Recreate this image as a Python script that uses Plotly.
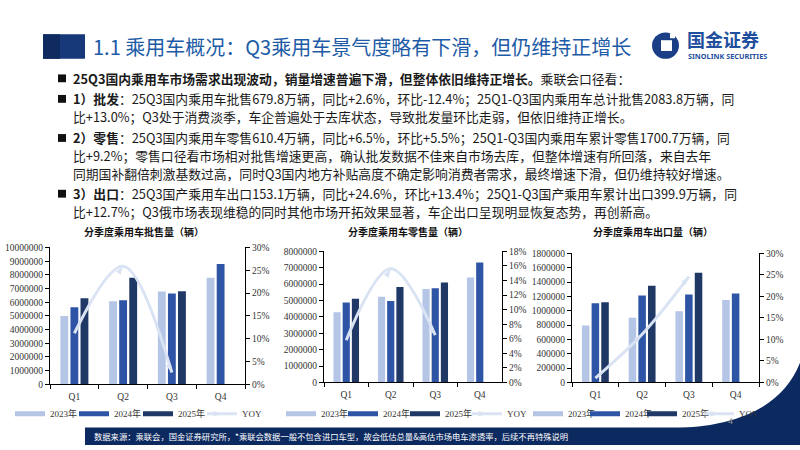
import plotly.graph_objects as go

# ---------------- data ----------------
quarters = ["Q1", "Q2", "Q3", "Q4"]
years = ["2023年", "2024年", "2025年"]

wholesale_2023 = [5000000, 6070000, 6790000, 7790000]
wholesale_2024 = [5640000, 6140000, 6640000, 8790000]
wholesale_2025 = [6290000, 7790000, 6798000, None]
wholesale_yoy = [11.2, 25.9, 2.6, None]

retail_2023 = [4280000, 5230000, 5710000, 6410000]
retail_2024 = [4880000, 4970000, 5750000, 7320000]
retail_2025 = [5110000, 5830000, 6104000, None]
retail_yoy = [5.8, 15.6, 6.5, None]

export_2023 = [793000, 902000, 994000, 1149000]
export_2024 = [1103000, 1212000, 1226000, 1240000]
export_2025 = [1117000, 1349000, 1531000, None]
export_yoy = [1.0, 11.2, 24.6, None]

chart_titles = ["分季度乘用车批售量（辆）", "分季度乘用车零售量（辆）", "分季度乘用车出口量（辆）"]
left_ranges = [(0, 10000000, 1000000), (0, 8000000, 1000000), (0, 1800000, 200000)]
right_ranges = [(0, 30, 5), (0, 18, 2), (0, 30, 5)]

page_title = "1.1 乘用车概况：Q3乘用车景气度略有下滑，但仍维持正增长"
body_lines = [
    "<b>25Q3国内乘用车市场需求出现波动，销量增速普遍下滑，但整体依旧维持正增长。</b>乘联会口径看：",
    "<b>1）批发</b>：25Q3国内乘用车批售679.8万辆，同比+2.6%，环比-12.4%；25Q1-Q3国内乘用车总计批售2083.8万辆，同",
    "比+13.0%；Q3处于消费淡季，车企普遍处于去库状态，导致批发量环比走弱，但依旧维持正增长。",
    "<b>2）零售</b>：25Q3国内乘用车零售610.4万辆，同比+6.5%，环比+5.5%；25Q1-Q3国内乘用车累计零售1700.7万辆，同",
    "比+9.2%；零售口径看市场相对批售增速更高，确认批发数据不佳来自市场去库，但整体增速有所回落，来自去年",
    "同期国补翻倍刺激基数过高，同时Q3国内地方补贴高度不确定影响消费者需求，最终增速下滑，但仍维持较好增速。",
    "<b>3）出口</b>：25Q3国产乘用车出口153.1万辆，同比+24.6%，环比+13.4%；25Q1-Q3国产乘用车累计出口399.9万辆，同",
    "比+12.7%；Q3俄市场表现维稳的同时其他市场开拓效果显著，车企出口呈现明显恢复态势，再创新高。",
]
footer_text = "数据来源：乘联会，国金证券研究所，*乘联会数据一般不包含进口车型，故会低估总量&高估市场电车渗透率，后续不再特殊说明"

# ---------------- style ----------------
W, H = 800, 450
def X(p): return p / W
def Y(p): return 1 - p / H

bar_colors = ["#b4c5e6", "#2e55a5", "#1f3866"]
yoy_color = "#d9e3f3"
serif = "Liberation Serif, Noto Sans CJK SC"
cjk = "Noto Sans CJK SC"

# plot-area boxes in pixels (left, right, top, bottom)
boxes = [(50, 245, 248, 388), (324, 502, 252, 386), (572, 759, 254, 386)]
title_cx = [144, 408, 653]
legend_x = [10, 281, 528]
legend_ew = [19, 17, 12]

fig = go.Figure()

series = [
    ([wholesale_2023, wholesale_2024, wholesale_2025], wholesale_yoy),
    ([retail_2023, retail_2024, retail_2025], retail_yoy),
    ([export_2023, export_2024, export_2025], export_yoy),
]

layout_axes = {}
for i, ((bars, yoy), box) in enumerate(zip(series, boxes)):
    xa = "x" if i == 0 else f"x{i+1}"
    yl = "y" if i == 0 else f"y{2*i+1}"
    yr = f"y{2*i+2}"
    lg = "legend" if i == 0 else f"legend{i+1}"
    for name, vals, col in zip(years, bars, bar_colors):
        fig.add_trace(go.Bar(x=quarters, y=vals, name=name, marker_color=col,
                             marker_line_width=0, xaxis=xa, yaxis=yl,
                             showlegend=False, hoverinfo="skip"))
    for name, col in zip(years, bar_colors):
        fig.add_trace(go.Scatter(x=[None], y=[None], mode="lines", name=name,
                                 line=dict(color=col, width=5), xaxis=xa, yaxis=yl,
                                 legend=lg, showlegend=True))
    fig.add_trace(go.Scatter(x=quarters, y=yoy, name="YOY", mode="lines+markers",
                             line=dict(color=yoy_color, width=3, shape="spline"),
                             marker=dict(symbol="arrow", size=9, angleref="previous",
                                         color=yoy_color),
                             xaxis=xa, yaxis=yr, legend=lg, showlegend=True,
                             connectgaps=False))
    l, r, t, b = box
    axis_common = dict(showline=True, linecolor="#000000", linewidth=1,
                       ticks="outside", ticklen=4, tickcolor="#000000",
                       showgrid=False, zeroline=False,
                       tickfont=dict(family=serif, size=9.5, color="#333333"))
    lo, hi, dt = left_ranges[i]
    rlo, rhi, rdt = right_ranges[i]
    key_x = "xaxis" if i == 0 else f"xaxis{i+1}"
    key_yl = "yaxis" if i == 0 else f"yaxis{2*i+1}"
    key_yr = f"yaxis{2*i+2}"
    layout_axes[key_x] = dict(axis_common, domain=[X(l), X(r)], anchor=yl,
                              type="category", tickson="boundaries",
                              range=[-0.5, 3.5], ticklabelstandoff=3)
    layout_axes[key_yl] = dict(axis_common, domain=[Y(b), Y(t)], anchor=xa,
                               range=[lo, hi], dtick=dt, tickformat="d")
    layout_axes[key_yr] = dict(axis_common, domain=[Y(b), Y(t)], anchor=xa,
                               overlaying=yl, side="right",
                               range=[rlo, rhi], dtick=rdt, ticksuffix="%")
    layout_axes[lg] = dict(orientation="h", x=X(legend_x[i]), y=Y(418),
                           xanchor="left", yanchor="middle",
                           bgcolor="rgba(0,0,0,0)", entrywidth=legend_ew[i],
                           entrywidthmode="pixels", itemwidth=30,
                           font=dict(family=serif, size=9, color="#333333"))

annotations = []
for i, ttl in enumerate(chart_titles):
    annotations.append(dict(text=f"<b>{ttl}</b>", x=X(title_cx[i]), y=Y(232),
                            xref="paper", yref="paper", showarrow=False,
                            xanchor="center", yanchor="middle",
                            font=dict(family=cjk, size=10, color="#111111")))

annotations.append(dict(text=page_title, x=X(91), y=Y(42), xref="paper", yref="paper",
                        showarrow=False, xanchor="left", yanchor="middle",
                        font=dict(family=cjk, size=20, color="#1d5ba6")))
annotations.append(dict(text="<b>国金证券</b>", x=X(685), y=Y(34.5), xref="paper", yref="paper",
                        showarrow=False, xanchor="left", yanchor="middle",
                        font=dict(family=cjk, size=18, color="#1f4f9e")))
annotations.append(dict(text="<b>SINOLINK SECURITIES</b>", x=X(686), y=Y(52), xref="paper",
                        yref="paper", showarrow=False, xanchor="left", yanchor="middle",
                        font=dict(family="Noto Sans", size=7.3, color="#1f4f9e")))

line_y = [75, 96, 114, 136, 154, 172, 193, 211]
for txt, yy in zip(body_lines, line_y):
    annotations.append(dict(text=txt, x=X(71), y=Y(yy), xref="paper", yref="paper",
                            showarrow=False, xanchor="left", yanchor="middle",
                            font=dict(family=cjk, size=12.8, color="#1a1a1a")))

annotations.append(dict(text=footer_text, x=X(92), y=Y(441), xref="paper", yref="paper",
                        showarrow=False, xanchor="left", yanchor="middle",
                        font=dict(family=cjk, size=8.3, color="#ffffff")))
annotations.append(dict(text="4", x=X(730), y=Y(425), xref="paper", yref="paper",
                        showarrow=False, xanchor="center", yanchor="middle",
                        font=dict(family="Liberation Sans", size=9, color="#9a9a9a")))

shapes = []
# header block
shapes.append(dict(type="rect", xref="paper", yref="paper", x0=X(43), x1=X(85),
                   y0=Y(55), y1=Y(30), fillcolor="#17397a", line_width=0))
shapes.append(dict(type="rect", xref="paper", yref="paper", x0=X(43), x1=X(60),
                   y0=Y(55), y1=Y(30), fillcolor="#0f2b60", line_width=0))
# logo
shapes.append(dict(type="circle", xref="paper", yref="paper", x0=X(652), x1=X(679),
                   y0=Y(55), y1=Y(28), fillcolor="#1b3f86", line_width=0))
shapes.append(dict(type="rect", xref="paper", yref="paper", x0=X(661), x1=X(672),
                   y0=Y(47), y1=Y(36), fillcolor="#ffffff", line_width=0))
shapes.append(dict(type="rect", xref="paper", yref="paper", x0=X(670), x1=X(675),
                   y0=Y(34), y1=Y(29), fillcolor="#ffffff", line_width=0))
# bullets
for yy in [75, 96, 136, 193]:
    shapes.append(dict(type="rect", xref="paper", yref="paper", x0=X(58), x1=X(66),
                       y0=Y(yy + 4), y1=Y(yy - 4), fillcolor="#111111", line_width=0))
# footer band and swoosh
shapes.append(dict(type="rect", xref="paper", yref="paper", x0=X(85), x1=X(800),
                   y0=Y(450), y1=Y(432), fillcolor="#0c2a60", line_width=0))
path = (f"M {X(670)},{Y(433)} Q {X(775)},{Y(431)} {X(800)},{Y(366)} "
        f"L {X(800)},{Y(434)} Z")
shapes.append(dict(type="path", xref="paper", yref="paper", path=path,
                   fillcolor="#0c2a60", line_width=0))

fig.update_layout(
    width=W, height=H, autosize=False,
    margin=dict(l=0, r=0, t=0, b=0),
    paper_bgcolor="#ffffff", plot_bgcolor="#ffffff",
    barmode="group", bargap=0.38, bargroupgap=0.22,
    annotations=annotations, shapes=shapes,
    **layout_axes,
)

fig.write_html("out.html", config={"displayModeBar": False},
               post_script="document.body.style.margin='0';")
